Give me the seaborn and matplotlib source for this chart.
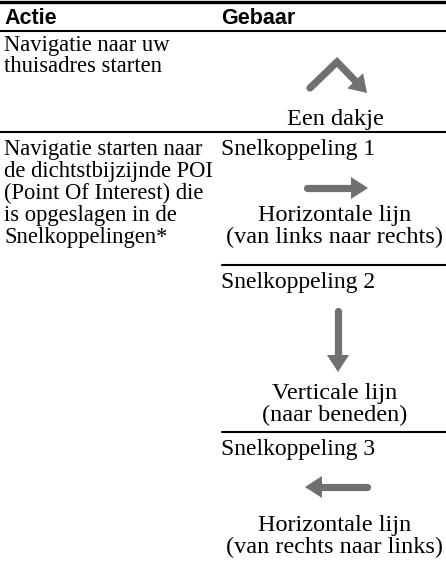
import numpy as np
import pandas as pd
import matplotlib
matplotlib.use("Agg")
import matplotlib.pyplot as plt
from matplotlib.patches import Polygon
import seaborn as sns

# --- table content ---
headers = ["Actie", "Gebaar"]
actie_1 = ["Navigatie naar uw", "thuisadres starten"]
actie_2 = ["Navigatie starten naar", "de dichtstbijzijnde POI",
           "(Point Of Interest) die", "is opgeslagen in de",
           "Snelkoppelingen*"]
shortcut_titles = ["Snelkoppeling 1", "Snelkoppeling 2", "Snelkoppeling 3"]
gesture_names = [["Een dakje"],
                 ["Horizontale lijn", "(van links naar rechts)"],
                 ["Verticale lijn", "(naar beneden)"],
                 ["Horizontale lijn", "(van rechts naar links)"]]

# gesture strokes (pixel space of the page, y downwards)
stroke_x = [[310, 337, 367], [307, 368], [338, 338], [367, 305]]
stroke_y = [[88, 62, 93], [188, 188], [311, 372], [487, 487]]

W, H = 446, 561
GREY = "#707072"
SERIF = "Liberation Serif"
SANS = "Liberation Sans"

sns.set_theme(style="white")
plt.rcParams["font.family"] = [SERIF, "DejaVu Serif"]
plt.rcParams["text.color"] = "black"

fig = plt.figure(figsize=(W / 100, H / 100), dpi=100)
ax = fig.add_axes([0, 0, 1, 1])

fs_left = 16.3
fs = 17
fs_name = 17.5
hfs = 15.5
col2 = 221
mid2 = 335

# rules
ax.axhline(2, color="black", lw=2.4)
ax.axhline(31, color="black", lw=1.5)
ax.axhline(132, color="black", lw=1.5)
ax.axhline(265, xmin=222 / W, color="black", lw=1.5)
ax.axhline(432, xmin=222 / W, color="black", lw=1.5)

# header
ax.text(4, 24, headers[0], family=SANS, weight="bold", fontsize=hfs, va="baseline")
ax.text(col2, 24, headers[1], family=SANS, weight="bold", fontsize=hfs, va="baseline")

# first row
for i, line in enumerate(actie_1):
    ax.text(4, 51 + 21 * i, line, fontsize=fs_left, va="baseline")
ax.text(mid2, 125, gesture_names[0][0], fontsize=fs_name, ha="center", va="baseline")

# second row, left column
for i, line in enumerate(actie_2):
    ax.text(4, 155 + 22 * i, line, fontsize=fs_left, va="baseline")

# shortcut sub rows
title_y = [155, 288, 455]
name_y = [221, 399, 531]
for k in range(3):
    ax.text(col2, title_y[k], shortcut_titles[k], fontsize=fs, va="baseline")
    for j, line in enumerate(gesture_names[k + 1]):
        ax.text(mid2, name_y[k] + 22 * j, line, fontsize=fs_name, ha="center",
                va="baseline")

# gesture strokes
head_len, head_w = 17, 22
rows = []
for g, (xs, ys) in enumerate(zip(stroke_x, stroke_y)):
    xs = np.array(xs, float)
    ys = np.array(ys, float)
    d = np.array([xs[-1] - xs[-2], ys[-1] - ys[-2]])
    d /= np.hypot(*d)
    tip = np.array([xs[-1], ys[-1]])
    base = tip - d * head_len
    xs[-1], ys[-1] = base + d * 2
    for i, (x, y) in enumerate(zip(xs, ys)):
        rows.append({"gesture": g, "order": i, "x": x, "y": y})
    n = np.array([-d[1], d[0]])
    tri = [tip, base + n * head_w / 2, base - n * head_w / 2]
    ax.add_patch(Polygon(tri, closed=True, color=GREY, lw=0))

strokes = pd.DataFrame(rows)
sns.lineplot(data=strokes, x="x", y="y", units="gesture", estimator=None,
             sort=False, color=GREY, lw=5.2, ax=ax, legend=False,
             solid_capstyle="round", solid_joinstyle="miter")
ax.set_xlim(0, W)
ax.set_ylim(H, 0)
ax.axis("off")

fig.savefig("out.png", dpi=100)
